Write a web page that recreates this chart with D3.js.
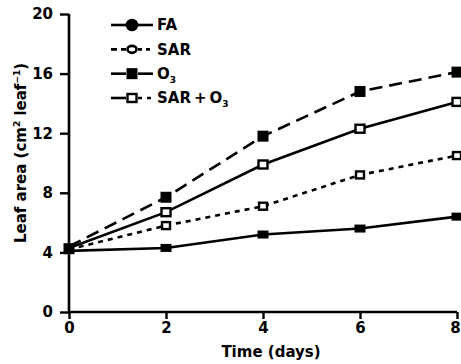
<!DOCTYPE html>
<html>
<head>
<meta charset="utf-8">
<script src="https://cdn.jsdelivr.net/npm/d3@7"></script>
<style>
  html, body { margin: 0; padding: 0; background: #fff; }
  svg { display: block; }
  text { font-family: "DejaVu Sans", sans-serif; font-weight: bold; fill: #000; }
</style>
</head>
<body>
<svg id="chart" width="461" height="364"></svg>
<script>
// ---- data ----
const days = [0, 2, 4, 6, 8];
const faValues = [4.1, 4.3, 5.2, 5.6, 6.4];
const sarValues = [4.2, 5.8, 7.1, 9.2, 10.5];
const o3Values = [4.3, 6.7, 9.9, 12.3, 14.1];
const sarO3Values = [4.4, 7.7, 11.8, 14.8, 16.1];
const seriesNames = ["FA", "SAR", "O3", "SAR+O3"];
const yTicks = [0, 4, 8, 12, 16, 20];
const xTicks = [0, 2, 4, 6, 8];

// ---- styles (as drawn in plot) ----
const plotStyles = {
  "FA":     { values: faValues,    dash: null,    marker: "fillrect" },
  "SAR":    { values: sarValues,   dash: "5,5",   marker: "openrect-small" },
  "O3":     { values: o3Values,    dash: null,    marker: "opensq" },
  "SAR+O3": { values: sarO3Values, dash: "13,7",  marker: "fillsq" }
};

const svg = d3.select("#chart");
const x = d3.scaleLinear().domain([0, 8]).range([69, 457]);
const y = d3.scaleLinear().domain([0, 20]).range([312, 14]);

// axes
const yAxis = d3.axisLeft(y).tickValues(yTicks).tickSize(9).tickPadding(7);
const xAxis = d3.axisBottom(x).tickValues(xTicks).tickSize(7).tickPadding(3);

const gy = svg.append("g").attr("transform", "translate(69,0)").call(yAxis);
const gx = svg.append("g").attr("transform", "translate(0,312)").call(xAxis);
[gx, gy].forEach(g => {
  g.select(".domain").attr("stroke", "#000").attr("stroke-width", 2.6);
  g.selectAll(".tick line").attr("stroke", "#000").attr("stroke-width", 2.4);
  g.selectAll(".tick text").style("font-family", "'DejaVu Sans', sans-serif")
    .style("font-weight", "bold").style("font-size", "15px").attr("fill", "#000");
});
gy.select(".domain").attr("d", `M0,${y(20)}V${y(0)}`);
gx.select(".domain").attr("d", `M${x(0)},0H${x(8)}`);
gx.selectAll(".tick text").filter(d => d === 8).attr("dx", -2);

// lines
const line = d3.line().x((d, i) => x(days[i])).y(d => y(d));
const order = ["FA", "SAR", "O3", "SAR+O3"];
order.forEach(name => {
  const s = plotStyles[name];
  svg.append("path")
    .datum(s.values)
    .attr("d", line)
    .attr("fill", "none")
    .attr("stroke", "#000")
    .attr("stroke-width", 2.6)
    .attr("stroke-dasharray", s.dash);
});

function drawMarker(g, type, cx, cy) {
  if (type === "fillsq") {
    g.append("rect").attr("x", cx - 5.5).attr("y", cy - 5.5).attr("width", 11).attr("height", 11).attr("fill", "#000");
  } else if (type === "opensq") {
    g.append("rect").attr("x", cx - 4.5).attr("y", cy - 4).attr("width", 9).attr("height", 8)
      .attr("fill", "#fff").attr("stroke", "#000").attr("stroke-width", 2.4);
  } else if (type === "openrect-small") {
    g.append("rect").attr("x", cx - 4).attr("y", cy - 3.5).attr("width", 8).attr("height", 7)
      .attr("fill", "#fff").attr("stroke", "#000").attr("stroke-width", 2.4);
  } else if (type === "fillrect") {
    g.append("rect").attr("x", cx - 5.5).attr("y", cy - 4).attr("width", 11).attr("height", 8).attr("fill", "#000");
  } else if (type === "fillcircle") {
    g.append("circle").attr("cx", cx).attr("cy", cy).attr("r", 6.3).attr("fill", "#000");
  } else if (type === "opencircle") {
    g.append("ellipse").attr("cx", cx).attr("cy", cy).attr("rx", 4.5).attr("ry", 3.5)
      .attr("fill", "#fff").attr("stroke", "#000").attr("stroke-width", 2.6);
  }
}

const mg = svg.append("g");
order.forEach(name => {
  const s = plotStyles[name];
  s.values.forEach((v, i) => {
    if (i === 0) return;
    drawMarker(mg, s.marker, x(days[i]), y(v));
  });
});
// overlapping markers at day 0
drawMarker(mg, "fillsq", x(days[0]), y(d3.mean([faValues[0], sarValues[0], o3Values[0], sarO3Values[0]])));

// legend
const legendStyles = [
  { name: "FA",     leftDash: null,  rightDash: null, marker: "fillcircle" },
  { name: "SAR",    leftDash: "6,4", rightDash: "4,4", marker: "opencircle" },
  { name: "O3",     leftDash: null,  rightDash: null, marker: "fillsq" },
  { name: "SAR+O3", leftDash: null,  rightDash: "4,5", marker: "opensq" }
];
const lg = svg.append("g");
const rowY = d3.scalePoint().domain(seriesNames).range([25, 98]);
legendStyles.forEach(ls => {
  const cy = rowY(ls.name);
  lg.append("line").attr("x1", 111).attr("x2", 126).attr("y1", cy).attr("y2", cy)
    .attr("stroke", "#000").attr("stroke-width", 2.6).attr("stroke-dasharray", ls.leftDash);
  lg.append("line").attr("x1", 138).attr("x2", 153).attr("y1", cy).attr("y2", cy)
    .attr("stroke", "#000").attr("stroke-width", 2.6).attr("stroke-dasharray", ls.rightDash);
  drawMarker(lg, ls.marker, 132, cy);
  const t = lg.append("text").attr("x", 157).attr("y", cy).attr("dy", "0.36em")
    .style("font-size", "15px");
  if (ls.name === "FA") t.text("FA");
  else if (ls.name === "SAR") t.text("SAR");
  else if (ls.name === "O3") {
    t.append("tspan").text("O");
    t.append("tspan").text("3").style("font-size", "9px").attr("dy", "4");
  } else {
    t.append("tspan").text("SAR\u2009+\u2009O");
    t.append("tspan").text("3").style("font-size", "9px").attr("dy", "4");
  }
});

// axis titles
svg.append("text").attr("x", 271).attr("y", 357).attr("text-anchor", "middle")
  .style("font-size", "15px").text("Time (days)");

const yt = svg.append("text").attr("transform", "translate(26,153) rotate(-90)")
  .attr("text-anchor", "middle").style("font-size", "15px");
yt.append("tspan").text("Leaf area (cm");
yt.append("tspan").text("2").style("font-size", "9px").attr("dy", "-6");
yt.append("tspan").text(" leaf").attr("dy", "6");
yt.append("tspan").text("\u22121").style("font-size", "9px").attr("dy", "-6");
yt.append("tspan").text(")").attr("dy", "6");
</script>
</body>
</html>
